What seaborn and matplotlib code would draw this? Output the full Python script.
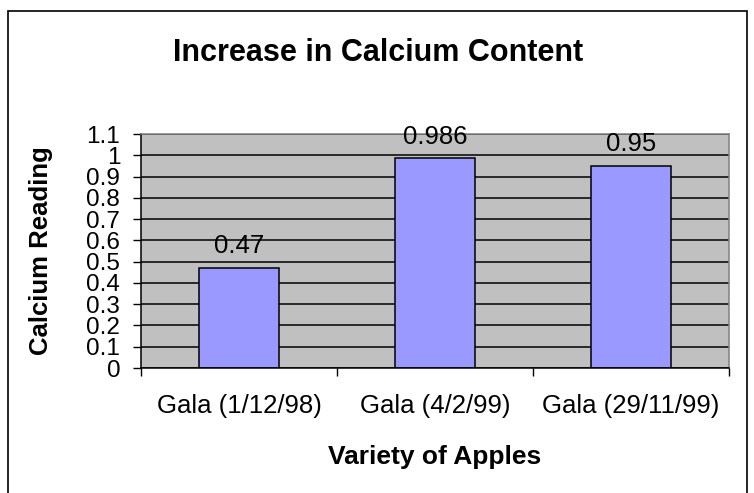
import matplotlib
matplotlib.use("Agg")
import matplotlib.pyplot as plt
import seaborn as sns
import pandas as pd
from matplotlib.patches import Rectangle
from matplotlib.ticker import FixedLocator

sns.set_theme(style="white")
plt.rcParams['font.family'] = ['Liberation Sans', 'DejaVu Sans']

VARIETIES = ['Gala (1/12/98)', 'Gala (4/2/99)', 'Gala (29/11/99)']
CALCIUM = [0.47, 0.986, 0.95]
Y_TICKS = [0, 0.1, 0.2, 0.3, 0.4, 0.5, 0.6, 0.7, 0.8, 0.9, 1.0, 1.1]
Y_TICK_LABELS = ['0', '0.1', '0.2', '0.3', '0.4', '0.5', '0.6', '0.7', '0.8', '0.9', '1', '1.1']

BAR_COLOR = '#9999FF'
PLOT_BG = '#C0C0C0'

df = pd.DataFrame({'variety': VARIETIES, 'calcium': CALCIUM})

fig = plt.figure(figsize=(7.54, 4.93), dpi=100)
fig.patch.set_facecolor('white')
ax = fig.add_axes([0.187, 0.2535, 0.780, 0.4746])
ax.set_facecolor(PLOT_BG)

sns.barplot(data=df, x='variety', y='calcium', color=BAR_COLOR, width=0.41,
            edgecolor='black', linewidth=1.1, saturation=1, ax=ax)

ax.set_xlim(-0.5, 2.5)
ax.set_ylim(0, 1.1)
ax.set_yticks(Y_TICKS)
ax.set_yticklabels(Y_TICK_LABELS)
ax.yaxis.grid(True, color='black', linewidth=1.1)
ax.set_axisbelow(True)

# category labels at centres, tick marks at the boundaries
ax.tick_params(axis='x', which='major', length=0, pad=19, labelsize=18.5,
               labelcolor='black')
ax.xaxis.set_minor_locator(FixedLocator([-0.5, 0.5, 1.5, 2.5]))
ax.tick_params(axis='x', which='minor', bottom=True, direction='out', length=6,
               width=1, color='black')
ax.tick_params(axis='y', left=True, direction='out', length=6, width=1,
               color='black', pad=9, labelsize=17.5, labelcolor='black')

for side in ['left', 'bottom']:
    ax.spines[side].set_color('black')
    ax.spines[side].set_linewidth(1.1)
for side in ['top', 'right']:
    ax.spines[side].set_color('#808080')
    ax.spines[side].set_linewidth(1.1)

ax.bar_label(ax.containers[0], fmt='%g', padding=7, fontsize=18.5, color='black')

ax.set_xlabel('Variety of Apples', fontsize=19, fontweight='bold', color='black')
ax.set_ylabel('Calcium Reading', fontsize=18.5, fontweight='bold', color='black')
ax.xaxis.set_label_coords(0.5, -0.33)
ax.yaxis.set_label_coords(-0.149, 0.5)

fig.text(0.502, 0.892, 'Increase in Calcium Content', ha='center', va='center',
         fontsize=22, fontweight='bold', color='black')

# chart area frame
fig.patches.append(Rectangle((8 / 754, -0.02), 739 / 754, 1.02 - 11 / 493,
                             transform=fig.transFigure, fill=False,
                             edgecolor='black', linewidth=1.2, clip_on=False))

fig.savefig('out.png', dpi=100)
